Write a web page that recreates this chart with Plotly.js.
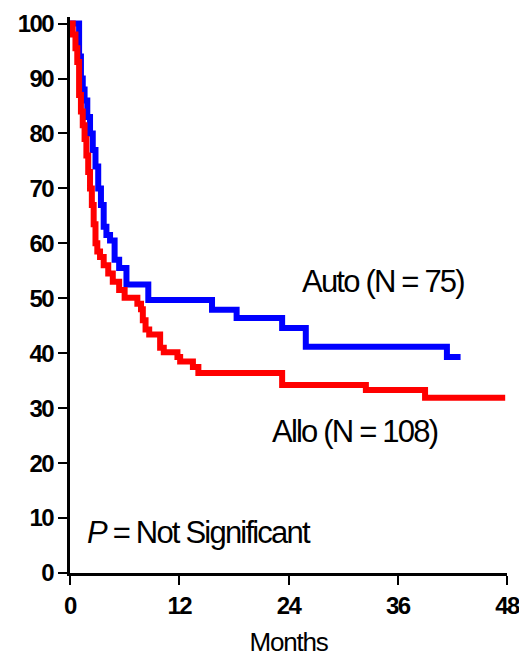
<!DOCTYPE html>
<html>
<head>
<meta charset="utf-8">
<script src="https://cdn.plot.ly/plotly-3.0.1.min.js"></script>
<style>
html,body{margin:0;padding:0;background:#fff;}
#chart{width:519px;height:657px;}
.annotation-text{letter-spacing:-1.8px;}
.xtick text,.ytick text{letter-spacing:-1.5px;}
.g-xtitle text{letter-spacing:-1.2px;}
</style>
</head>
<body>
<div id="chart"></div>
<script>
// Auto (N = 75) Kaplan-Meier steps
var autoMonths = [0, 1.0, 1.2, 1.4, 1.6, 1.9, 2.2, 2.5, 2.8, 3.1, 3.4, 3.7, 4.0, 4.4, 4.9, 5.4, 6.2, 8.6, 15.6, 18.3, 23.3, 25.9, 41.4, 42.9];
var autoSurv   = [100, 94, 90, 88, 86, 83, 80, 77, 74, 70, 67, 63, 61.5, 60.5, 57, 55.5, 52.5, 49.7, 47.9, 46.4, 44.6, 41.2, 39.3, 39.3];
// Allo (N = 108) Kaplan-Meier steps
var alloMonths = [0, 0.3, 0.6, 0.8, 1.0, 1.2, 1.4, 1.6, 1.8, 2.0, 2.2, 2.4, 2.6, 2.8, 3.0, 3.3, 3.7, 4.2, 4.7, 5.4, 6.0, 7.4, 7.8, 8.0, 8.3, 8.7, 9.9, 10.3, 11.8, 12.1, 13.5, 14.1, 23.3, 32.5, 39.0, 47.8];
var alloSurv   = [100, 98, 95.5, 93, 87, 84, 81.5, 79, 76, 73, 70, 67, 63.5, 60, 58.5, 57.5, 56, 54.5, 53, 51.5, 50.1, 49, 48, 46, 44.3, 43.4, 41, 40.2, 39.3, 38.5, 37.5, 36.4, 34.2, 33.3, 31.9, 31.9];
var xTicks = [0, 12, 24, 36, 48];
var yTicks = [0, 10, 20, 30, 40, 50, 60, 70, 80, 90, 100];
var labels = ["Auto (N = 75)", "Allo (N = 108)", "<i>P</i> = Not Significant"];

var traces = [
  {x: autoMonths, y: autoSurv, mode: 'lines', line: {shape: 'hv', color: '#0000ff', width: 6}, hoverinfo: 'skip'},
  {x: alloMonths, y: alloSurv, mode: 'lines', line: {shape: 'hv', color: '#ff0000', width: 6}, hoverinfo: 'skip'}
];

var fam = 'Liberation Sans, Arial, sans-serif';
var axisFont = {family: fam, size: 24, color: '#000', weight: 'bold'};
var annFont = {family: fam, size: 31, color: '#000'};
var layout = {
  width: 519, height: 657,
  margin: {l: 70, r: 12, t: 17, b: 84},
  paper_bgcolor: '#fff', plot_bgcolor: '#fff',
  showlegend: false,
  xaxis: {
    range: [0, 48], tickvals: xTicks, ticktext: xTicks.map(String),
    showgrid: false, zeroline: false, showline: true, linecolor: '#000', linewidth: 3,
    ticks: 'outside', ticklen: 9, tickwidth: 2, tickcolor: '#000',
    tickfont: axisFont, ticklabeloverflow: 'allow',
    title: {text: 'Months', font: {family: fam, size: 26, color: '#000'}, standoff: 16}
  },
  yaxis: {
    range: [0, 101.2], tickvals: yTicks, ticktext: yTicks.map(String),
    showgrid: false, zeroline: false, showline: true, linecolor: '#000', linewidth: 3,
    ticks: 'outside', ticklen: 9, tickwidth: 2, tickcolor: '#000',
    tickfont: axisFont, ticklabeloverflow: 'allow'
  },
  annotations: [
    {x: 34.4, y: 53, xref: 'x', yref: 'y', text: labels[0], showarrow: false, xanchor: 'center', yanchor: 'middle', font: annFont},
    {x: 31.3, y: 25.7, xref: 'x', yref: 'y', text: labels[1], showarrow: false, xanchor: 'center', yanchor: 'middle', font: annFont},
    {x: 1.6, y: 7.3, xref: 'x', yref: 'y', text: labels[2], showarrow: false, xanchor: 'left', yanchor: 'middle', font: annFont}
  ]
};

Plotly.newPlot('chart', traces, layout, {displayModeBar: false, staticPlot: true});
</script>
</body>
</html>
